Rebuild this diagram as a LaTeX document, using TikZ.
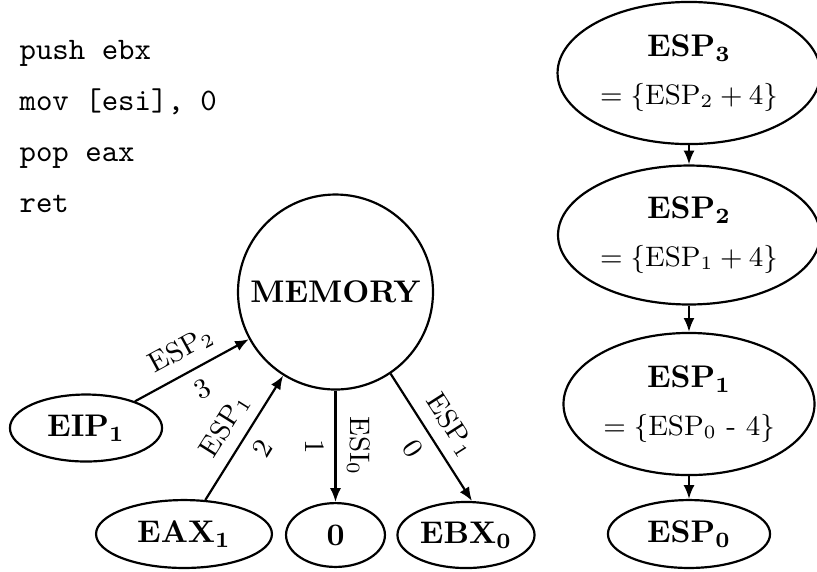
\documentclass[tikz,border=0pt]{standalone}
\usetikzlibrary{arrows.meta,shapes.geometric}
\begin{document}
\begin{tikzpicture}[x=0.3195pt,y=-0.3195pt,
  oval/.style={draw, ellipse, line width=0.7pt, inner sep=0pt, align=center},
  memnode/.style={draw, circle, line width=0.7pt, inner sep=0pt, minimum size=62.3pt, font=\bfseries},
  link/.style={-{Latex[length=4.4pt,width=3.5pt]}, line width=0.7pt},
  code/.style={anchor=base west, font=\ttfamily, inner sep=0pt},
  lbl/.style={sloped, allow upside down, font=\small}]
\useasboundingbox (0,0) rectangle (817,571);

% instruction listing
\node[code] (l1) at (19,59)  {push ebx};
\node[code] (l2) at (19,110) {mov [esi], 0};
\node[code] (l3) at (19,161) {pop eax};
\node[code] (l4) at (19,212) {ret};

% memory and the values stored into it
\node[memnode] (mem) at (335.5,292) {MEMORY};
\node[oval, minimum width=48.6pt, minimum height=21.4pt] (eip) at (86,428) {\textbf{EIP}$_{\mathbf{1}}$};
\node[oval, minimum width=56.2pt, minimum height=21.7pt] (eax) at (184,534) {\textbf{EAX}$_{\mathbf{1}}$};
\node[oval, minimum width=31.6pt, minimum height=20.4pt] (zero) at (335.5,535) {\textbf{0}};
\node[oval, minimum width=43.8pt, minimum height=21.1pt] (ebx) at (466,535) {\textbf{EBX}$_{\mathbf{0}}$};

% stack pointer chain
\node[oval, minimum width=84pt, minimum height=45.4pt] (esp3) at (689,73)
  {\textbf{ESP}$_{\mathbf{3}}$\\[3.2pt]{\small$=\{\mathrm{ESP}_2+4\}$}};
\node[oval, minimum width=83.7pt, minimum height=44.4pt] (esp2) at (689,235)
  {\textbf{ESP}$_{\mathbf{2}}$\\[3.2pt]{\small$=\{\mathrm{ESP}_1+4\}$}};
\node[oval, minimum width=80.2pt, minimum height=45.4pt] (esp1) at (689,404)
  {\textbf{ESP}$_{\mathbf{1}}$\\[3.2pt]{\small$=\{\mathrm{ESP}_0$ - $4\}$}};
\node[oval, minimum width=51.8pt, minimum height=21.7pt] (esp0) at (689,534) {\textbf{ESP}$_{\mathbf{0}}$};

% memory accesses
\draw[link] (eip) -- node[lbl, above] {ESP$_2$} node[lbl, below] {3} (mem);
\draw[link] (eax) -- node[lbl, above] {ESP$_1$} node[lbl, below] {2} (mem);
\draw[link] (mem.south) -- node[lbl, above] {ESI$_0$} node[lbl, below] {1} (zero.north);
\draw[link] (mem.-56.7) -- node[lbl, above] {ESP$_1$} node[lbl, below] {0} (ebx.80);

% stack pointer dependencies
\draw[link] (esp3) -- (esp2);
\draw[link] (esp2) -- (esp1);
\draw[link] (esp1) -- (esp0);
\end{tikzpicture}
\end{document}
